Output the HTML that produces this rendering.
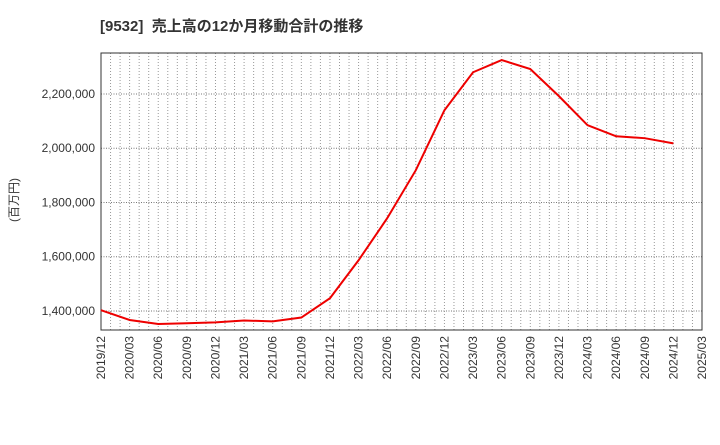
<!DOCTYPE html>
<html><head><meta charset="utf-8"><style>
body{margin:0;background:#fff;font-family:"Liberation Sans","Noto Sans CJK JP",sans-serif}
</style></head><body>
<svg width="720" height="440" xmlns="http://www.w3.org/2000/svg">
<text x="100" y="31" font-size="15" font-weight="bold" fill="#333" font-family="Liberation Sans,Noto Sans CJK JP,sans-serif">[9532]&#160; 売上高の12か月移動合計の推移</text>
<text transform="translate(18,200) rotate(-90)" font-size="12" fill="#333" text-anchor="middle" font-family="Liberation Sans,Noto Sans CJK JP,sans-serif">(百万円)</text>
<g id="grid"></g><g id="axes"></g><g id="series"></g>
</svg>
<script>
const xLabels=["2019/12","2020/03","2020/06","2020/09","2020/12","2021/03","2021/06","2021/09","2021/12","2022/03","2022/06","2022/09","2022/12","2023/03","2023/06","2023/09","2023/12","2024/03","2024/06","2024/09","2024/12","2025/03"];
const values=[1403000,1367000,1352000,1355000,1358000,1365000,1362000,1376000,1447000,1587000,1742000,1919000,2140000,2280000,2325000,2292000,2192000,2085000,2044000,2037000,2018000];
const yTicks=[1400000,1600000,1800000,2000000,2200000];
const L=101,R=702,T=53,B=330,yMin=1330000,yMax=2351000;
const NS="http://www.w3.org/2000/svg";
const xs=i=>L+(R-L)*i/(xLabels.length-1);
const ys=v=>B-(v-yMin)/(yMax-yMin)*(B-T);
function mk(t,a,p){const e=document.createElementNS(NS,t);for(const k in a)e.setAttribute(k,a[k]);p.appendChild(e);return e;}
const g=document.getElementById('grid'),ax=document.getElementById('axes'),s=document.getElementById('series');
const nm=(xLabels.length-1)*3;
for(let m=1;m<nm;m++){const x=L+(R-L)*m/nm;const ln=mk('line',{x1:x,x2:x,y1:T,y2:B,stroke:'#999','stroke-dasharray':'1,2','stroke-width':1},g);

}
yTicks.forEach(v=>{const y=ys(v);const ln=mk('line',{x1:L,x2:R,y1:y,y2:y,stroke:'#777','stroke-dasharray':'1,1.5','stroke-width':1},g);


const t=mk('text',{x:L-6,y:y+4,'font-size':12,'text-anchor':'end',fill:'#333'},ax);t.textContent=v.toLocaleString('en-US');

});
const fr=mk('rect',{x:L,y:T,width:R-L,height:B-T,fill:'none',stroke:'#333','stroke-width':1},ax);


xLabels.forEach((lb,i)=>{const x=xs(i);const t=mk('text',{transform:`translate(${x+4},${B+6}) rotate(-90)`,'font-size':12,'text-anchor':'end',fill:'#333'},ax);t.textContent=lb;

});
const pl=mk('polyline',{points:values.map((v,i)=>xs(i)+','+ys(v)).join(' '),fill:'none',stroke:'#e00','stroke-width':2},s);


</script>
</body></html>
